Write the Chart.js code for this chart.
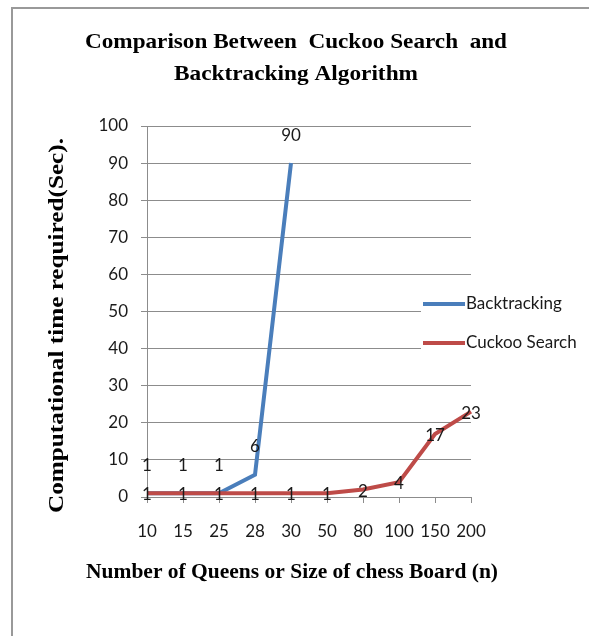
<!DOCTYPE html>
<html>
<head>
<meta charset="utf-8">
<script src="https://cdn.jsdelivr.net/npm/chart.js@4.4.0/dist/chart.umd.min.js"></script>
<style>
  html, body { margin: 0; padding: 0; background: #fff; }
  canvas { display: block; }
</style>
</head>
<body>
<canvas id="queensChart" width="589" height="636"></canvas>
<script>
// board size n (category axis)
const boardSizes = ["10", "15", "25", "28", "30", "50", "80", "100", "150", "200"];
// time in seconds - backtracking was only run up to n = 30
const backtrackingTimes = [1, 1, 1, 6, 90, null, null, null, null, null];
const cuckooTimes = [1, 1, 1, 1, 1, 1, 2, 4, 17, 23];
const yTickValues = [0, 10, 20, 30, 40, 50, 60, 70, 80, 90, 100];

const seriesNames = ["Backtracking", "Cuckoo Search"];
const seriesColors = ["#4A7EBB", "#BE4B48"];
const titleLines = ["Comparison Between  Cuckoo Search  and", "Backtracking Algorithm"];
const xTitle = "Number of Queens or Size of chess Board (n)";
const yTitle = "Computational time required(Sec).";

const serif = "bold 22px 'Liberation Serif', 'Times New Roman', serif";
const sans = "17px Lato, 'Open Sans', sans-serif";
const gridGray = "#8c8c8c";

// draw text squeezed/stretched to a given width (the original titles are condensed)
function fitText(ctx, text, x, y, width, angle) {
    ctx.save();
    ctx.font = serif;
    let w = ctx.measureText(text).width;
    ctx.translate(x, y);
    if (angle) ctx.rotate(angle);
    ctx.scale(width / w, 1);
    ctx.textAlign = "center";
    ctx.textBaseline = "alphabetic";
    ctx.fillStyle = "#000";
    ctx.fillText(text, 0, 0);
    ctx.restore();
}

// page frame, titles, value labels and the legend box
const pageDecor = {
    id: "pageDecor",
    beforeDraw(chart) {
        let ctx = chart.ctx;
        ctx.save();
        ctx.strokeStyle = "#999";
        ctx.lineWidth = 2;
        ctx.beginPath();
        ctx.moveTo(12, 636);
        ctx.lineTo(12, 8);
        ctx.lineTo(589, 8);
        ctx.stroke();
        ctx.restore();
    },
    afterDatasetsDraw(chart) {
        let ctx = chart.ctx;
        ctx.save();
        ctx.font = sans;
        ctx.fillStyle = "#1a1a1a";
        ctx.textAlign = "center";
        ctx.textBaseline = "middle";
        chart.data.datasets.forEach((ds, i) => {
            let meta = chart.getDatasetMeta(i);
            meta.data.forEach((pt, j) => {
                if (ds.data[j] === null) return;
                let dy = i === 0 ? -28 : 1.5;
                ctx.fillText(String(ds.data[j]), pt.x, pt.y + dy);
            });
        });
        ctx.restore();
    },
    afterDraw(chart) {
        let ctx = chart.ctx;
        fitText(ctx, titleLines[0], 296, 48, 422);
        fitText(ctx, titleLines[1], 296, 80, 244);
        fitText(ctx, xTitle, 292, 578, 412);
        fitText(ctx, yTitle, 63, 325.5, 375, -Math.PI / 2);

        // legend sits over the right part of the plot, white behind it
        ctx.save();
        ctx.fillStyle = "#fff";
        ctx.fillRect(421, 290, 168, 68);
        ctx.font = sans;
        ctx.textBaseline = "middle";
        ctx.textAlign = "left";
        let rows = [304, 343];
        chart.data.datasets.forEach((ds, i) => {
            ctx.strokeStyle = ds.borderColor;
            ctx.lineWidth = 4;
            ctx.beginPath();
            ctx.moveTo(423, rows[i]);
            ctx.lineTo(465, rows[i]);
            ctx.stroke();
            ctx.fillStyle = "#1a1a1a";
            ctx.fillText(ds.label, 466, rows[i]);
        });
        ctx.restore();
    }
};

let ctx = document.getElementById("queensChart").getContext("2d");
let chart = new Chart(ctx, {
    type: "line",
    data: {
        labels: boardSizes,
        datasets: [{
            label: seriesNames[0],
            data: backtrackingTimes,
            borderColor: seriesColors[0],
            borderWidth: 4,
            pointRadius: 0,
            tension: 0,
            order: 1
        }, {
            label: seriesNames[1],
            data: cuckooTimes,
            borderColor: seriesColors[1],
            borderWidth: 4,
            pointRadius: 0,
            tension: 0,
            order: 0
        }]
    },
    options: {
        responsive: false,
        animation: false,
        layout: { padding: { left: 0, top: 126, right: 118, bottom: 19 } },
        plugins: {
            legend: { display: false },
            title: { display: false },
            tooltip: { enabled: false }
        },
        scales: {
            x: {
                offset: false,
                grid: { drawOnChartArea: false, tickLength: 6, color: gridGray },
                border: { color: gridGray },
                ticks: {
                    color: "#1a1a1a",
                    font: { family: "Lato", size: 17 },
                    padding: 18,
                    maxRotation: 0,
                    autoSkip: false
                },
                afterFit(scale) { scale.height = 120; }
            },
            y: {
                min: yTickValues[0],
                max: yTickValues[yTickValues.length - 1],
                grid: { color: gridGray, tickLength: 6 },
                border: { color: gridGray },
                ticks: {
                    color: "#1a1a1a",
                    font: { family: "Lato", size: 17 },
                    padding: 13
                },
                afterBuildTicks(scale) {
                    scale.ticks = yTickValues.map(v => ({ value: v }));
                },
                afterFit(scale) { scale.width = 147; }
            }
        }
    },
    plugins: [pageDecor]
});
</script>
</body>
</html>
